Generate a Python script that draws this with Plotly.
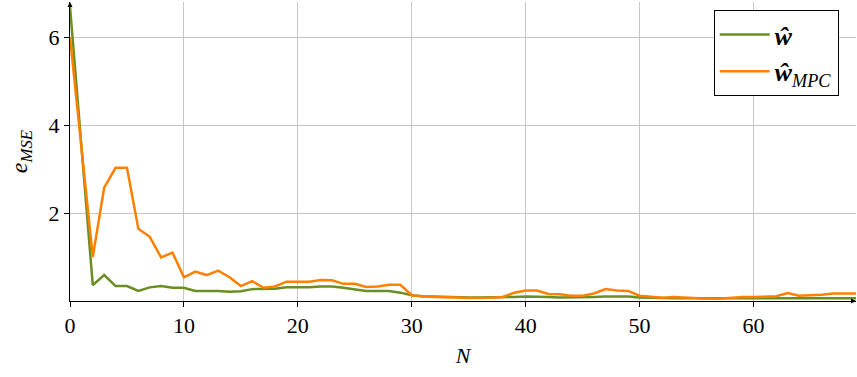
import plotly.graph_objects as go

# Data
N = list(range(70))
w_hat = [6.70, 3.50, 0.36, 0.59, 0.34, 0.34, 0.23, 0.31, 0.34, 0.30,
         0.30, 0.23, 0.23, 0.23, 0.21, 0.22, 0.27, 0.27, 0.28, 0.31,
         0.31, 0.31, 0.33, 0.33, 0.30, 0.27, 0.23, 0.23, 0.23, 0.19,
         0.13, 0.11, 0.10, 0.10, 0.09, 0.08, 0.08, 0.08, 0.08, 0.09,
         0.10, 0.10, 0.09, 0.08, 0.08, 0.08, 0.09, 0.10, 0.10, 0.10,
         0.08, 0.07, 0.06, 0.06, 0.06, 0.06, 0.05, 0.05, 0.06, 0.06,
         0.06, 0.06, 0.06, 0.06, 0.06, 0.06, 0.06, 0.06, 0.06, 0.06]
w_hat_mpc = [6.00, 3.45, 1.00, 2.58, 3.03, 3.03, 1.64, 1.46, 0.99, 1.10,
             0.54, 0.67, 0.59, 0.69, 0.54, 0.34, 0.45, 0.30, 0.33, 0.44,
             0.44, 0.44, 0.48, 0.47, 0.39, 0.39, 0.32, 0.33, 0.37, 0.37,
             0.13, 0.10, 0.09, 0.09, 0.08, 0.07, 0.07, 0.075, 0.09, 0.19,
             0.24, 0.24, 0.16, 0.155, 0.12, 0.12, 0.17, 0.27, 0.24, 0.23,
             0.12, 0.10, 0.075, 0.09, 0.075, 0.07, 0.05, 0.05, 0.075, 0.09,
             0.09, 0.10, 0.11, 0.18, 0.12, 0.13, 0.14, 0.17, 0.17, 0.17]

x_ticks = [0, 10, 20, 30, 40, 50, 60]
y_ticks = [2, 4, 6]

green = 'rgb(107, 142, 35)'
orange = 'rgb(255, 128, 0)'
font_family = 'Liberation Serif, DejaVu Serif, serif'

fig = go.Figure()
fig.add_trace(go.Scatter(x=N, y=w_hat, mode='lines', name='<b><i>ŵ</i></b>',
                         line=dict(color=green, width=2.5)))
fig.add_trace(go.Scatter(x=N, y=w_hat_mpc, mode='lines',
                         name='<b><i>ŵ</i></b><sub><i>MPC</i></sub>',
                         line=dict(color=orange, width=2.5)))

# axis arrowheads
fig.add_annotation(x=1.0, y=0, xref='paper', yref='paper', ax=-6, ay=0,
                   showarrow=True, arrowhead=2, arrowsize=1, arrowwidth=1,
                   arrowcolor='black', text='')
fig.add_annotation(x=0, y=1.0, xref='paper', yref='paper', ax=0, ay=6,
                   showarrow=True, arrowhead=2, arrowsize=1, arrowwidth=1,
                   arrowcolor='black', text='')

fig.update_layout(
    width=857, height=377,
    margin=dict(l=70, r=1, t=2, b=76),
    paper_bgcolor='white',
    plot_bgcolor='white',
    font=dict(family=font_family, size=22, color='black'),
    xaxis=dict(
        range=[0, 69],
        tickvals=x_ticks,
        showgrid=True, gridcolor='rgb(200, 200, 200)', gridwidth=1,
        zeroline=False, automargin=False,
        showline=True, linecolor='black', linewidth=1,
        ticks='outside', ticklen=5, tickcolor='black',
        title=dict(text='<i>N</i>', font=dict(size=22), standoff=10),
    ),
    yaxis=dict(
        range=[0, 6.8],
        tickvals=y_ticks,
        showgrid=True, gridcolor='rgb(200, 200, 200)', gridwidth=1,
        zeroline=False, automargin=False,
        showline=True, linecolor='black', linewidth=1,
        ticks='outside', ticklen=5, tickcolor='black',
        title=dict(text='<i>e</i><sub><i>MSE</i></sub>', font=dict(size=24), standoff=14),
    ),
    legend=dict(
        x=0.978, y=0.973, xanchor='right', yanchor='top',
        bordercolor='black', borderwidth=1, bgcolor='white',
        font=dict(size=26), itemwidth=50,
    ),
)

fig.write_html('out.html', config={'displayModeBar': False},
               post_script="document.body.style.margin='0';")
